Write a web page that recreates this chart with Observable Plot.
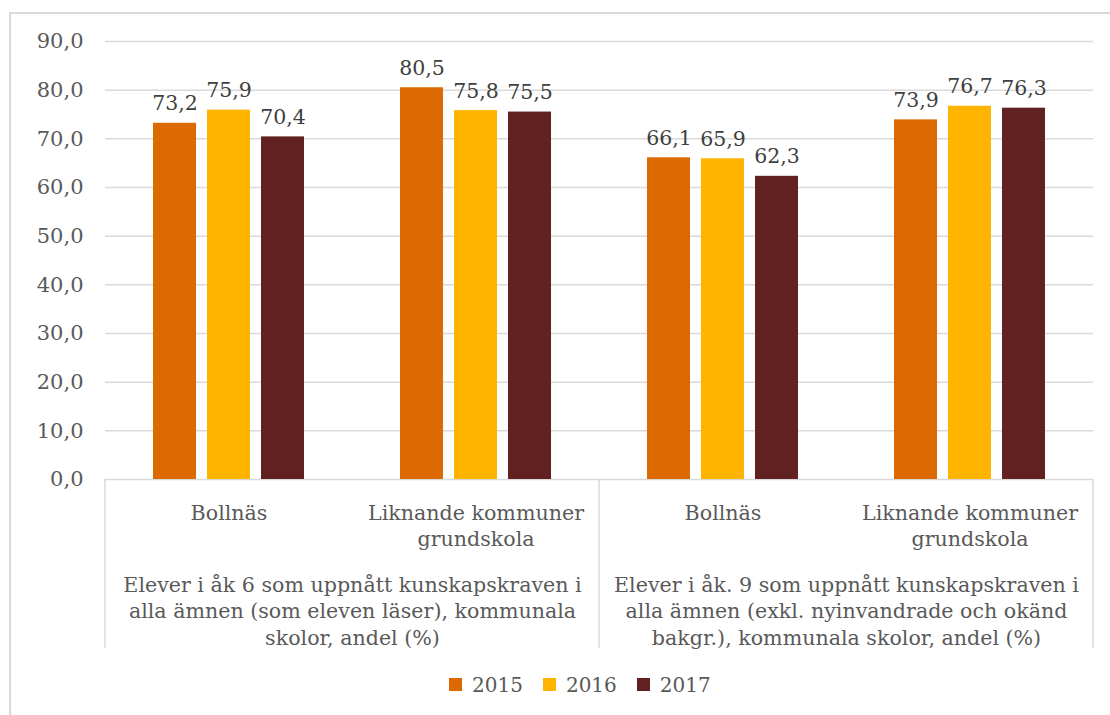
<!DOCTYPE html>
<html>
<head>
<meta charset="utf-8">
<script src="https://cdn.jsdelivr.net/npm/d3@7"></script>
<script src="https://cdn.jsdelivr.net/npm/@observablehq/plot@0.6"></script>
<style>
  html, body { margin: 0; padding: 0; background: #fff; overflow: hidden; }
  #wrap { position: relative; width: 1110px; height: 715px; }
  #border { position: absolute; left: 9px; top: 12px; width: 1120px; height: 730px;
            border: 2px solid #d9d9d9; box-sizing: border-box; }
  #chart { position: absolute; left: 0; top: 0; }
  #legend { position: absolute; left: 449px; top: 668px; }
</style>
</head>
<body>
<div id="wrap">
  <div id="border"></div>
  <div id="chart"></div>
  <div id="legend"></div>
</div>
<script>
// Series years and colours
const years = ["2015", "2016", "2017"];
const colors = ["#dd6a00", "#ffb400", "#612121"];

// Inner categories (one key per cluster) and their labels
const clusterKeys = ["g1-bollnas", "g1-liknande", "g2-bollnas", "g2-liknande"];
const clusterLabels = ["Bollnäs", "Liknande kommuner\ngrundskola", "Bollnäs", "Liknande kommuner\ngrundskola"];

// Outer categories: the indicator each pair of clusters belongs to
const groupAnchors = ["g1-liknande", "g2-liknande"];
const groupLabels = [
  "Elever i åk 6 som uppnått kunskapskraven i\nalla ämnen (som eleven läser), kommunala\nskolor, andel (%)",
  "Elever i åk. 9 som uppnått kunskapskraven i\nalla ämnen (exkl. nyinvandrade och okänd\nbakgr.), kommunala skolor, andel (%)"
];

// Share of pupils (%) per cluster, one array per year
const values2015 = [73.2, 80.5, 66.1, 73.9];
const values2016 = [75.9, 75.8, 65.9, 76.7];
const values2017 = [70.4, 75.5, 62.3, 76.3];

const yTicks = [0, 10, 20, 30, 40, 50, 60, 70, 80, 90];

const series = [values2015, values2016, values2017];
const rows = years.flatMap((year, i) =>
  clusterKeys.map((key, j) => ({cluster: key, year, value: series[i][j]}))
);
const clusters = clusterKeys.map((key, j) => ({cluster: key, label: clusterLabels[j]}));
const groups = groupAnchors.map((key, j) => ({cluster: key, label: groupLabels[j]}));

const fmt = v => v.toFixed(1).replace(".", ",");
const FONT = "DejaVu Serif";
const TEXT = "#595959";

const plot = Plot.plot({
  width: 1110,
  height: 662,
  marginLeft: 104,
  marginRight: 16,
  marginTop: 41,
  marginBottom: 183,
  style: {fontFamily: FONT, fontSize: "21px", color: TEXT, background: "transparent"},
  fx: {domain: clusterKeys, padding: 0, axis: null},
  x: {domain: years, paddingInner: 0.2, paddingOuter: 0.85, axis: null},
  y: {domain: [0, 90], ticks: yTicks, tickFormat: fmt, tickSize: 0, tickPadding: 22, label: null},
  color: {domain: years, range: colors},
  marks: [
    Plot.gridY(yTicks, {stroke: "#d9d9d9", strokeOpacity: 1, strokeWidth: 1.5}),
    Plot.barY(rows, {fx: "cluster", x: "year", y: "value", fill: "year"}),
    Plot.text(rows, {
      fx: "cluster", x: "year", y: "value", text: d => fmt(d.value),
      dy: -13, lineAnchor: "bottom", fill: "#404040", fontSize: 20.5
    }),
    Plot.text(clusters, {
      fx: "cluster", text: "label", frameAnchor: "bottom",
      lineAnchor: "top", dy: 21, lineHeight: 1.3, fill: TEXT, fontSize: 20.6
    }),
    Plot.text(groups, {
      fx: "cluster", text: "label", frameAnchor: "bottom-left", textAnchor: "middle",
      lineAnchor: "top", dy: 93, lineHeight: 1.3, fill: TEXT, fontSize: 20.6
    })
  ]
});
document.getElementById("chart").append(plot);

// Box lines framing the two-level category axis, placed from the fx and y scales
const fxs = plot.scale("fx");
const ys = plot.scale("y");
const bw = fxs.bandwidth;
const y0 = ys.apply(0);
const yEnd = 648;
const edges = [fxs.apply(clusterKeys[0]), fxs.apply(clusterKeys[2]), fxs.apply(clusterKeys[3]) + bw];
const svg = d3.select(plot);
svg.append("g")
  .attr("stroke", "#d9d9d9")
  .attr("stroke-width", 1.5)
  .selectAll("line")
  .data(edges)
  .join("line")
  .attr("x1", d => d).attr("x2", d => d)
  .attr("y1", y0).attr("y2", yEnd);

// Legend below the chart
const legend = Plot.legend({
  color: {domain: years, range: colors},
  swatchSize: 13,
  style: {fontFamily: FONT, fontSize: "20px", color: TEXT}
});
document.getElementById("legend").append(legend);
</script>
</body>
</html>
